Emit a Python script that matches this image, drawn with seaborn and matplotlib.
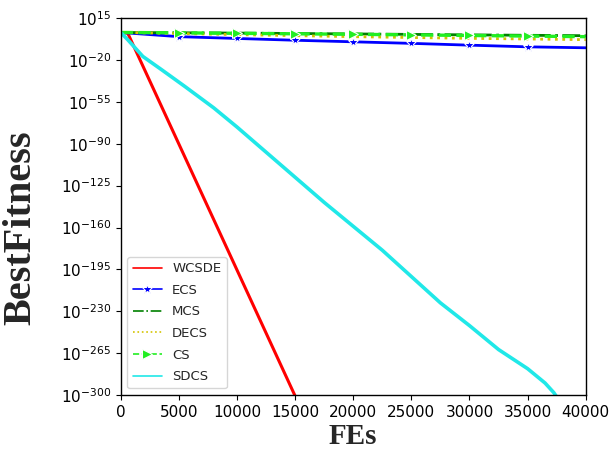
import numpy as np
import pandas as pd
import matplotlib
matplotlib.use("Agg")
import matplotlib.pyplot as plt
from matplotlib.ticker import NullLocator
import seaborn as sns

# ---- data (values as log10 exponents of BestFitness) ----
wcsde_fe = [0, 600, 15200]
wcsde_exp = [3, 2.5, -305]

ecs_fe = [0, 5000, 10000, 15000, 20000, 25000, 30000, 35000, 40000]
ecs_exp = [3, -0.5, -2, -3.5, -4.8, -6.1, -7.6, -9, -9.8]

mcs_fe = [0, 10000, 20000, 30000, 40000]
mcs_exp = [3, 2.5, 1.8, 1.0, 0.3]

decs_fe = [0, 10000, 20000, 30000, 40000]
decs_exp = [3, 1.2, -0.5, -1.9, -3.0]

cs_fe = [0, 5000, 10000, 15000, 20000, 25000, 30000, 35000, 40000]
cs_exp = [3, 2.7, 2.3, 1.9, 1.5, 1.0, 0.5, 0.0, -0.5]

sdcs_fe = [0, 600, 1900, 3500, 5500, 8000, 10000, 12500, 15000, 17500, 20000,
           22500, 25000, 27500, 30000, 32500, 35000, 36500, 37250, 37600]
sdcs_exp = [3, -3, -17, -28, -42, -60, -76, -97, -118, -139, -159,
            -179, -201, -223, -242, -262, -278, -290, -298, -303]

yticks_exp = [15, -20, -55, -90, -125, -160, -195, -230, -265, -300]
xticks = [0, 5000, 10000, 15000, 20000, 25000, 30000, 35000, 40000]

sns.set_style("ticks")
plt.rcParams['font.family'] = ['DejaVu Sans']

fig = plt.figure(figsize=(6.14, 4.53), dpi=100)
ax = fig.add_axes([0.1966, 0.128, 0.7574, 0.832])
ax.set_yscale('log')

def df(fe, ex):
    return pd.DataFrame({"FEs": fe, "BestFitness": np.power(10.0, np.array(ex, dtype=float))})

sns.lineplot(data=df(wcsde_fe, wcsde_exp), x="FEs", y="BestFitness", ax=ax,
             color='red', lw=2.2, label='WCSDE')
sns.lineplot(data=df(ecs_fe, ecs_exp), x="FEs", y="BestFitness", ax=ax,
             color='blue', lw=2, marker='*', markersize=7, markevery=slice(1, 8),
             label='ECS')
sns.lineplot(data=df(mcs_fe, mcs_exp), x="FEs", y="BestFitness", ax=ax,
             color='green', lw=2, linestyle='-.', label='MCS')
sns.lineplot(data=df(decs_fe, decs_exp), x="FEs", y="BestFitness", ax=ax,
             color='#d4c400', lw=2, linestyle=':', label='DECS')
sns.lineplot(data=df(cs_fe, cs_exp), x="FEs", y="BestFitness", ax=ax,
             color='#22ee22', lw=2.4, linestyle='--', marker='>', markersize=7,
             markevery=slice(1, 8), label='CS')
sns.lineplot(data=df(sdcs_fe, sdcs_exp), x="FEs", y="BestFitness", ax=ax,
             color='#20e8e8', lw=2.6, label='SDCS')

ax.set_xlim(0, 40000)
ax.set_ylim(1e-300, 1e15)
ax.set_xticks(xticks)
ax.set_yticks([10.0 ** e for e in yticks_exp])
ax.yaxis.set_minor_locator(NullLocator())
ax.tick_params(labelsize=11, colors='black')
for s in ax.spines.values():
    s.set_color('black')
    s.set_linewidth(1)
    s.set_visible(True)

ax.set_xlabel("FEs", fontsize=21, fontweight='bold', family=['Liberation Serif'], labelpad=2)
ax.set_ylabel("BestFitness", fontsize=29, fontweight='bold', family=['Liberation Serif'])
ax.yaxis.set_label_coords(-0.175, 0.443)

leg = ax.legend(loc='lower left', fontsize=9.5, frameon=True, framealpha=0.8,
                edgecolor='#cccccc', fancybox=True, handlelength=2.2, labelspacing=0.65)
for h in leg.get_lines():
    h.set_linewidth(1.2)

fig.savefig("out.png", dpi=100)
